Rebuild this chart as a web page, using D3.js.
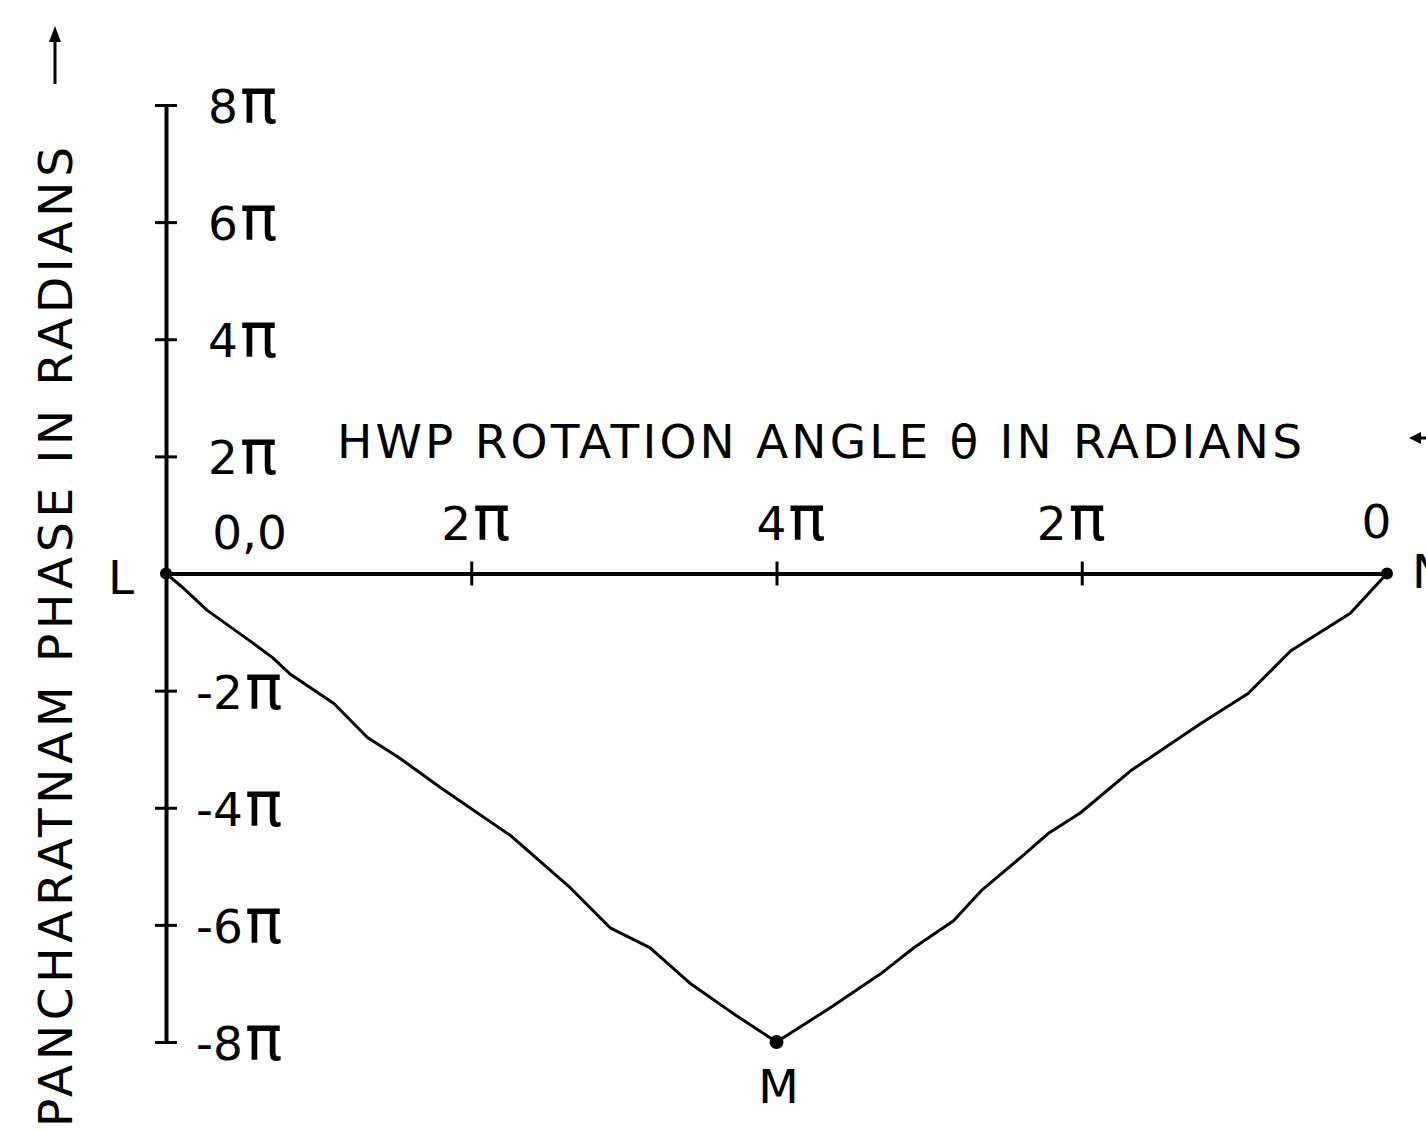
<!DOCTYPE html>
<html>
<head>
<meta charset="utf-8">
<script src="https://cdn.jsdelivr.net/npm/d3@7"></script>
<style>
  html, body { margin: 0; padding: 0; background: #fff; }
  svg { display: block; }
  text { font-family: "DejaVu Sans", "Liberation Sans", sans-serif; font-weight: normal; fill: #000; }
</style>
</head>
<body>
<svg id="chart" width="1426" height="1130"></svg>
<script>
// Measured Pancharatnam phase along the closed L → M → N path (both in units of π)
const thetaPath = [0, 0.11, 0.27, 0.55, 0.70, 0.81, 1.10, 1.32, 1.53, 1.80, 2.26, 2.65, 2.91, 3.17, 3.44, 3.72, 4.00,
                   4.35, 4.68, 4.90, 5.16, 5.34, 5.55, 5.78, 5.99, 6.32, 6.78, 7.09, 7.37, 7.76, 8.00];
const phasePath = [0, -0.24, -0.63, -1.15, -1.44, -1.71, -2.22, -2.80, -3.15, -3.66, -4.48, -5.37, -6.05, -6.39, -7.01, -7.52, -8.00,
                   -7.42, -6.84, -6.39, -5.93, -5.42, -4.96, -4.44, -4.09, -3.37, -2.56, -2.05, -1.32, -0.68, 0];

// Named points on the path
const pointNames = ["L", "M", "N"];
const pointTheta = [0, 4, 8];
const pointPhase = [0, -8, 0];

// Axis ticks
const yTickValues = [8, 6, 4, 2, -2, -4, -6, -8];
const yTickLabels = ["8π", "6π", "4π", "2π", "-2π", "-4π", "-6π", "-8π"];
const xTickValues = [0, 2, 4, 6, 8];
const xTickLabels = ["0,0", "2π", "4π", "2π", "0"];

const xTitle = "HWP ROTATION ANGLE θ IN RADIANS";
const yTitle = "PANCHARATNAM PHASE IN RADIANS";

// ---- layout ----
const FS = 47;            // lettering size
const PI_SCALE = 1.32;    // π drawn at cap height
const svg = d3.select("#chart");

const x = d3.scaleLinear().domain([0, 8]).range([166, 1387]);
const y = d3.scaleLinear().domain([-8, 8]).range([1042, 105]);

// writes a label, enlarging the π so it stands as tall as the digits
function piLabel(sel, str) {
  sel.text(null);
  const parts = str.split("π");
  sel.append("tspan").text(parts[0]);
  if (parts.length > 1) {
    sel.append("tspan").attr("font-size", FS * PI_SCALE).attr("dx", 2).text("π");
  }
}

// ---- vertical axis (phase) ----
const yAxis = svg.append("g")
  .attr("transform", `translate(${x(0)},0)`)
  .call(d3.axisRight(y).tickValues(yTickValues).tickSize(0).tickSizeOuter(0)
        .tickFormat((d, i) => yTickLabels[i]));
yAxis.select(".domain").attr("stroke", "#000").attr("stroke-width", 4);
yAxis.selectAll(".tick line").attr("x1", -11).attr("x2", 11).attr("stroke", "#000").attr("stroke-width", 3);
yAxis.selectAll(".tick text")
  .attr("font-size", FS).attr("font-family", null).attr("fill", "#000")
  .attr("x", d => d > 0 ? 42 : 30)
  .attr("dy", "0.37em")
  .each(function (d, i) { piLabel(d3.select(this), yTickLabels[i]); });

// ---- horizontal axis (HWP rotation) ----
const xNudge = [83, 4, 14, -11, -11];
const xBase = [-25, -34, -34, -34, -36];
const xAxis = svg.append("g")
  .attr("transform", `translate(0,${y(0)})`)
  .call(d3.axisTop(x).tickValues(xTickValues).tickSize(0).tickSizeOuter(0)
        .tickFormat((d, i) => xTickLabels[i]));
xAxis.select(".domain").attr("stroke", "#000").attr("stroke-width", 4);
xAxis.selectAll(".tick line")
  .attr("y1", -12).attr("y2", 12).attr("stroke", "#000").attr("stroke-width", 3)
  .attr("display", d => (d === 0 || d === 8) ? "none" : null);
xAxis.selectAll(".tick text")
  .attr("font-size", FS).attr("font-family", null).attr("fill", "#000")
  .attr("dy", 0)
  .attr("x", (d, i) => xNudge[i])
  .attr("y", (d, i) => xBase[i])
  .each(function (d, i) { piLabel(d3.select(this), xTickLabels[i]); });

// ---- phase curve ----
const pathData = thetaPath.map((t, i) => [t, phasePath[i]]);
svg.append("path")
  .datum(pathData)
  .attr("fill", "none")
  .attr("stroke", "#000")
  .attr("stroke-width", 3)
  .attr("stroke-linejoin", "round")
  .attr("d", d3.line().x(d => x(d[0])).y(d => y(d[1])));

// ---- named points ----
const pts = pointNames.map((n, i) => ({ name: n, t: pointTheta[i], p: pointPhase[i] }));
svg.selectAll("circle.pt").data(pts).join("circle")
  .attr("class", "pt")
  .attr("cx", d => x(d.t)).attr("cy", d => y(d.p))
  .attr("r", d => d.name === "M" ? 7 : 6)
  .attr("fill", "#000");

const ptLabelPos = {
  L: { dx: -58, dy: 20, anchor: "start" },
  M: { dx: 2, dy: 61, anchor: "middle" },
  N: { dx: 25, dy: 14, anchor: "start" }
};
svg.selectAll("text.pt").data(pts).join("text")
  .attr("class", "pt")
  .attr("font-size", FS)
  .attr("text-anchor", d => ptLabelPos[d.name].anchor)
  .attr("x", d => x(d.t) + ptLabelPos[d.name].dx)
  .attr("y", d => y(d.p) + ptLabelPos[d.name].dy)
  .text(d => d.name);

// ---- axis titles with arrows ----
svg.append("text")
  .attr("x", 337).attr("y", 458)
  .attr("font-size", FS)
  .attr("textLength", 965).attr("lengthAdjust", "spacing")
  .text(xTitle);
svg.append("line").attr("x1", 1419).attr("x2", 1440).attr("y1", 438).attr("y2", 438)
  .attr("stroke", "#000").attr("stroke-width", 3);
svg.append("path").attr("d", "M1409,438 L1421,432 L1421,444 Z").attr("fill", "#000");

svg.append("text")
  .attr("transform", "translate(72,1127) rotate(-90)")
  .attr("font-size", FS)
  .attr("textLength", 980).attr("lengthAdjust", "spacing")
  .text(yTitle);
svg.append("line").attr("x1", 55).attr("x2", 55).attr("y1", 38).attr("y2", 84)
  .attr("stroke", "#000").attr("stroke-width", 3);
svg.append("path").attr("d", "M55,26 L49,42 L61,42 Z").attr("fill", "#000");
</script>
</body>
</html>
